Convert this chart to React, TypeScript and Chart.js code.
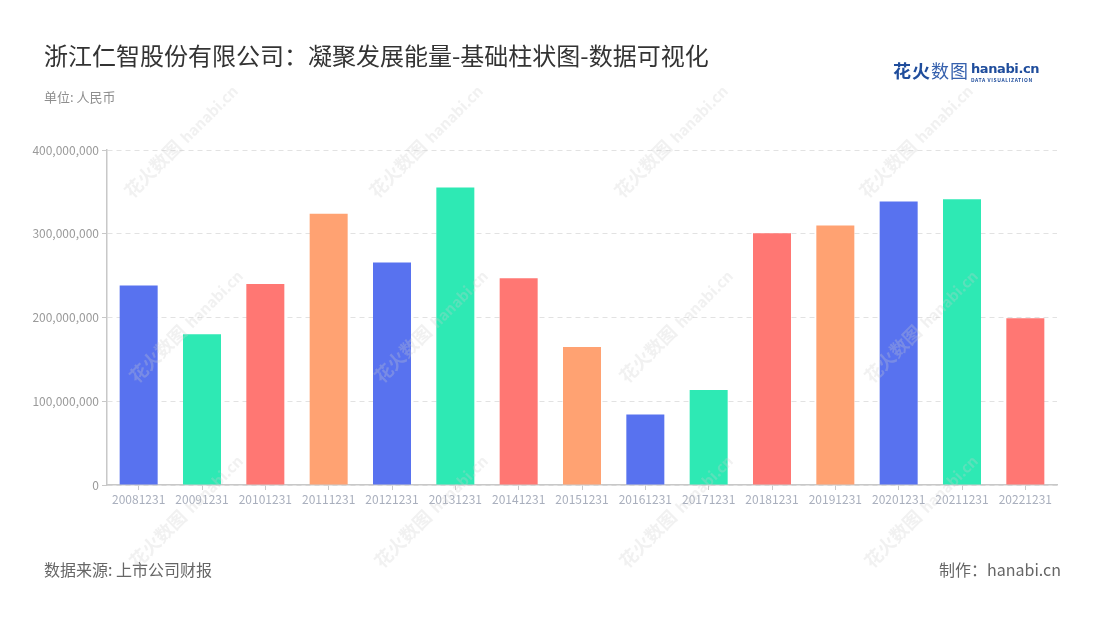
import React, { useEffect, useRef } from "react";
import { Chart, registerables } from "chart.js";

Chart.register(...registerables);

const title = "浙江仁智股份有限公司：凝聚发展能量-基础柱状图-数据可视化";
const unitText = "单位: 人民币";
const sourceText = "数据来源: 上市公司财报";
const creditText = "制作：hanabi.cn";

const categories = [
  "20081231", "20091231", "20101231", "20111231", "20121231",
  "20131231", "20141231", "20151231", "20161231", "20171231",
  "20181231", "20191231", "20201231", "20211231", "20221231",
];

const values = [
  238200000, 180000000, 240100000, 323800000, 265700000,
  355300000, 247000000, 164900000, 84100000, 113500000,
  300700000, 309900000, 338600000, 341300000, 199200000,
];

const palette = ["#5872ef", "#2ee9b4", "#ff7773", "#ffa272"];

const yMin = 0;
const yMax = 400000000;
const yStep = 100000000;

const FONT = '"Noto Sans CJK SC", "Noto Sans", sans-serif';

const watermarkCenters: [number, number][] = [
  [180, 140], [425, 140], [670, 140], [915, 140],
  [185, 325], [430, 325], [675, 325], [920, 325],
  [185, 510], [430, 510], [675, 510], [920, 510],
];

function Watermark({ x, y }: { x: number; y: number }) {
  return (
    <div
      style={{
        position: "absolute",
        left: x - 80,
        top: y - 12,
        width: 160,
        height: 24,
        transform: "rotate(-45deg)",
        color: "rgba(205,205,205,0.28)",
        fontFamily: FONT,
        whiteSpace: "nowrap",
        textAlign: "center",
        lineHeight: "24px",
        pointerEvents: "none",
        zIndex: 2,
      }}
    >
      <span style={{ fontSize: 18, fontWeight: 700 }}>花火数图</span>
      <span style={{ fontSize: 15, fontWeight: 700, marginLeft: 6 }}>hanabi.cn</span>
    </div>
  );
}

export default function App() {
  const canvasRef = useRef<HTMLCanvasElement | null>(null);

  useEffect(() => {
    document.body.style.margin = "0";
    const canvas = canvasRef.current;
    if (!canvas) return;
    const chart = new Chart(canvas, {
      type: "bar",
      data: {
        labels: categories,
        datasets: [
          {
            data: values,
            backgroundColor: values.map((_, i) => palette[i % palette.length]),
            borderWidth: 0,
            barPercentage: 0.6,
            categoryPercentage: 1.0,
          },
        ],
      },
      options: {
        responsive: false,
        animation: false,
        devicePixelRatio: 1,
        layout: { padding: { left: 0, top: 150, right: 43, bottom: 100 } },
        plugins: {
          legend: { display: false },
          title: { display: false },
          tooltip: { enabled: false },
        },
        scales: {
          x: {
            afterFit: (s: any) => {
              s.height = 35;
            },
            grid: {
              display: true,
              drawOnChartArea: false,
              drawTicks: true,
              tickLength: 5,
              offset: false,
              tickColor: "#c8c8c8",
              color: "#c8c8c8",
            },
            border: { display: true, color: "#c8c8c8", width: 1.5 },
            ticks: {
              color: "#a9afbd",
              font: { family: FONT, size: 12 },
              padding: 2,
              maxRotation: 0,
              autoSkip: false,
            },
          },
          y: {
            min: yMin,
            max: yMax,
            afterFit: (s: any) => {
              s.width = 107;
            },
            grid: {
              color: "#e2e2e2",
              lineWidth: 1,
              drawTicks: true,
              tickLength: 5,
              tickColor: "#c8c8c8",
            },
            border: { display: true, color: "#c8c8c8", width: 1.5, dash: [5, 4] },
            ticks: {
              stepSize: yStep,
              color: "#9a9a9a",
              font: { family: FONT, size: 12 },
              padding: 3,
              callback: (v: any) => Number(v).toLocaleString("en-US"),
            },
          },
        },
      },
    });
    return () => chart.destroy();
  }, []);

  return (
    <div
      style={{
        position: "relative",
        width: 1100,
        height: 620,
        overflow: "hidden",
        background: "#ffffff",
        fontFamily: FONT,
      }}
    >
      <canvas
        ref={canvasRef}
        width={1100}
        height={620}
        style={{ position: "absolute", left: 0, top: 0, width: 1100, height: 620 }}
      />
      <div
        style={{
          position: "absolute",
          left: 44,
          top: 40,
          fontSize: 24,
          lineHeight: "30px",
          color: "#333333",
          whiteSpace: "nowrap",
        }}
      >
        {title}
      </div>
      <div
        style={{
          position: "absolute",
          left: 44,
          top: 88,
          fontSize: 13,
          lineHeight: "18px",
          color: "#8e8e8e",
          whiteSpace: "nowrap",
        }}
      >
        {unitText}
      </div>
      <div
        style={{
          position: "absolute",
          left: 893,
          top: 58,
          whiteSpace: "nowrap",
          display: "flex",
          alignItems: "flex-start",
        }}
      >
        <span
          style={{
            fontSize: 18,
            lineHeight: "24px",
            color: "#1f4d9c",
            fontWeight: 700,
            letterSpacing: 1,
          }}
        >
          花火<span style={{ fontWeight: 400, color: "#3560ad" }}>数图</span>
        </span>
        <span style={{ display: "flex", flexDirection: "column", marginLeft: 2 }}>
          <span
            style={{
              fontSize: 13,
              lineHeight: "16px",
              color: "#1f4d9c",
              fontWeight: 700,
              fontFamily: '"DejaVu Sans", sans-serif',
              letterSpacing: -0.4,
              marginTop: 3,
            }}
          >
            hanabi.cn
          </span>
          <span
            style={{
              fontSize: 5,
              lineHeight: "6px",
              color: "#1f4d9c",
              letterSpacing: 0.6,
              fontWeight: 700,
            }}
          >
            DATA VISUALIZATION
          </span>
        </span>
      </div>
      <div
        style={{
          position: "absolute",
          left: 44,
          top: 558,
          fontSize: 16,
          lineHeight: "22px",
          color: "#666666",
          whiteSpace: "nowrap",
        }}
      >
        {sourceText}
      </div>
      <div
        style={{
          position: "absolute",
          right: 39,
          top: 558,
          fontSize: 16,
          lineHeight: "22px",
          color: "#666666",
          whiteSpace: "nowrap",
        }}
      >
        {creditText}
      </div>
      {watermarkCenters.map(([x, y], i) => (
        <Watermark key={i} x={x} y={y} />
      ))}
    </div>
  );
}
